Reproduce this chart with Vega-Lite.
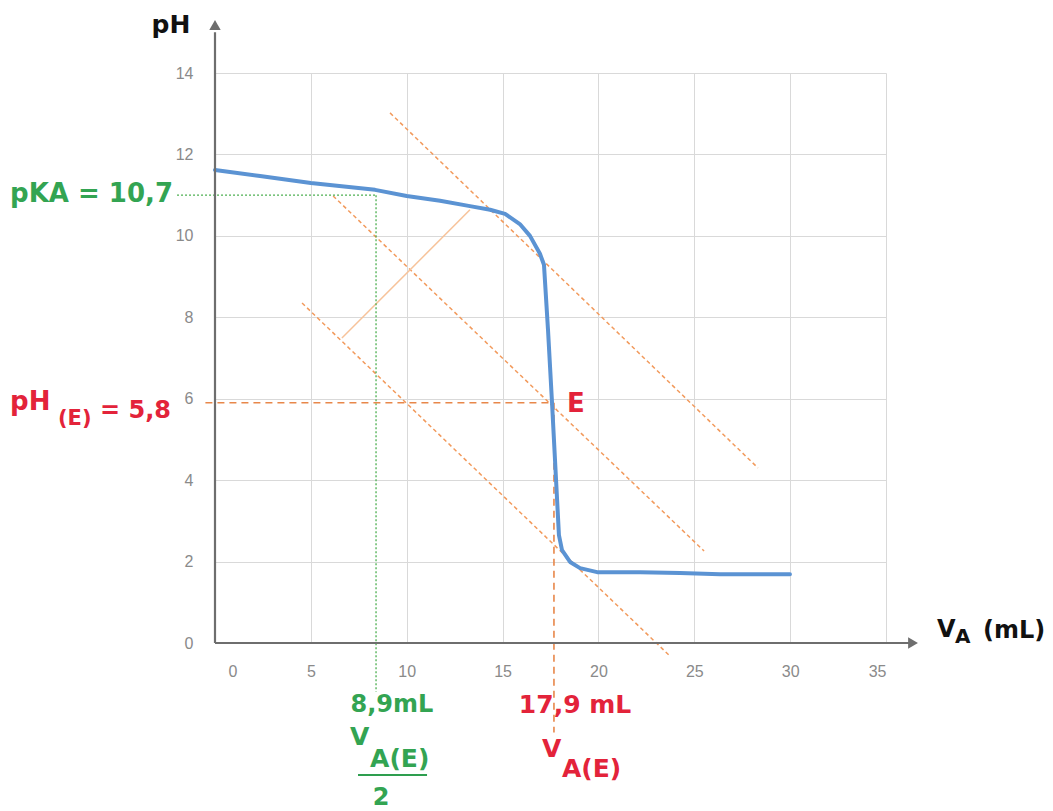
{
  "$schema": "https://vega.github.io/schema/vega-lite/v6.json",
  "width": 671,
  "height": 570,
  "autosize": "none",
  "padding": {"left": 215, "top": 73, "right": 167, "bottom": 168},
  "background": "white",
  "config": {
    "view": {"stroke": null},
    "axis": {"title": null, "domain": false, "ticks": false, "grid": true, "gridColor": "#d9d9d9", "gridWidth": 1,
      "labelColor": "#8a8a8a", "labelFont": "Liberation Sans", "labelFontSize": 16},
    "axisX": {"labelPadding": 20},
    "axisY": {"labelPadding": 22}
  },
  "datasets": {
    "curve": [
      {"v": 0, "ph": 11.62}, {"v": 2.35, "ph": 11.47}, {"v": 5, "ph": 11.3}, {"v": 8.35, "ph": 11.13},
      {"v": 10, "ph": 10.98}, {"v": 11.74, "ph": 10.86}, {"v": 13.3, "ph": 10.73}, {"v": 14.35, "ph": 10.64},
      {"v": 15.13, "ph": 10.54}, {"v": 15.9, "ph": 10.29}, {"v": 16.43, "ph": 10.0}, {"v": 16.95, "ph": 9.56},
      {"v": 17.16, "ph": 9.29}, {"v": 17.37, "ph": 7.69}, {"v": 17.58, "ph": 5.9}, {"v": 17.79, "ph": 4.0},
      {"v": 17.94, "ph": 2.65}, {"v": 18.1, "ph": 2.28}, {"v": 18.52, "ph": 1.99}, {"v": 19.04, "ph": 1.84},
      {"v": 19.93, "ph": 1.74}, {"v": 22.17, "ph": 1.74}, {"v": 24.26, "ph": 1.72}, {"v": 26.34, "ph": 1.69},
      {"v": 29.99, "ph": 1.69}
    ],
    "tangents": [
      {"x1": 9.13, "y1": 13.02, "x2": 28.32, "y2": 4.3},
      {"x1": 6.16, "y1": 10.98, "x2": 25.51, "y2": 2.26},
      {"x1": 4.54, "y1": 8.35, "x2": 23.73, "y2": -0.32}
    ],
    "perp": [{"x1": 6.62, "y1": 7.49, "x2": 13.3, "y2": 10.64}],
    "green": [
      {"x1": -1.98, "y1": 11.0, "x2": 8.4, "y2": 11.0},
      {"x1": 8.4, "y1": 11.0, "x2": 8.4, "y2": -1.2}
    ],
    "red": [
      {"x1": -0.5, "y1": 5.9, "x2": 17.62, "y2": 5.9},
      {"x1": 17.68, "y1": 5.9, "x2": 17.68, "y2": -2.2}
    ],
    "axes": [
      {"x1": 0, "y1": 0, "x2": 0, "y2": 15.0},
      {"x1": 0, "y1": 0, "x2": 36.2, "y2": 0}
    ],
    "bar": [{"x1": 7.46, "y1": -3.24, "x2": 11.06, "y2": -3.24}]
  },
  "layer": [
    {
      "data": {"name": "tangents"},
      "mark": {"type": "rule", "color": "#f29a5c", "strokeWidth": 1.5, "strokeDash": [4, 3]},
      "encoding": {
        "x": {"field": "x1", "type": "quantitative", "title": null,
          "scale": {"domain": [0, 35], "nice": false, "zero": false},
          "axis": {"values": [0, 5, 10, 15, 20, 25, 30, 35],
            "labelOffset": {"condition": {"test": "datum.value === 0", "value": 13}, "value": 0}}},
        "y": {"field": "y1", "type": "quantitative", "title": null,
          "scale": {"domain": [0, 14], "nice": false, "zero": false},
          "axis": {"values": [0, 2, 4, 6, 8, 10, 12, 14]}},
        "x2": {"field": "x2"}, "y2": {"field": "y2"}
      }
    },
    {
      "data": {"name": "perp"},
      "mark": {"type": "rule", "color": "#f7c39a", "strokeWidth": 1.5},
      "encoding": {
        "x": {"field": "x1", "type": "quantitative", "title": null}, "y": {"field": "y1", "type": "quantitative", "title": null},
        "x2": {"field": "x2"}, "y2": {"field": "y2"}
      }
    },
    {
      "data": {"name": "green"},
      "mark": {"type": "rule", "color": "#4caf50", "strokeWidth": 1.3, "strokeDash": [2, 2]},
      "encoding": {
        "x": {"field": "x1", "type": "quantitative", "title": null}, "y": {"field": "y1", "type": "quantitative", "title": null},
        "x2": {"field": "x2"}, "y2": {"field": "y2"}
      }
    },
    {
      "data": {"name": "red"},
      "mark": {"type": "rule", "color": "#e8874a", "strokeWidth": 1.6, "strokeDash": [7, 5]},
      "encoding": {
        "x": {"field": "x1", "type": "quantitative", "title": null}, "y": {"field": "y1", "type": "quantitative", "title": null},
        "x2": {"field": "x2"}, "y2": {"field": "y2"}
      }
    },
    {
      "data": {"name": "curve"},
      "mark": {"type": "line", "color": "#5b93d3", "strokeWidth": 4, "strokeJoin": "round", "strokeCap": "round"},
      "encoding": {
        "x": {"field": "v", "type": "quantitative", "title": null},
        "y": {"field": "ph", "type": "quantitative", "title": null}
      }
    },
    {
      "data": {"name": "axes"},
      "mark": {"type": "rule", "color": "#6e6e6e", "strokeWidth": 2.2},
      "encoding": {
        "x": {"field": "x1", "type": "quantitative", "title": null}, "y": {"field": "y1", "type": "quantitative", "title": null},
        "x2": {"field": "x2"}, "y2": {"field": "y2"}
      }
    },
    {
      "data": {"values": [{"x": 0, "y": 15.18}]},
      "mark": {"type": "point", "shape": "triangle-up", "filled": true, "color": "#6e6e6e", "size": 130, "opacity": 1},
      "encoding": {"x": {"field": "x", "type": "quantitative", "title": null}, "y": {"field": "y", "type": "quantitative", "title": null}}
    },
    {
      "data": {"values": [{"x": 36.41, "y": 0}]},
      "mark": {"type": "point", "shape": "triangle-right", "filled": true, "color": "#6e6e6e", "size": 130, "opacity": 1},
      "encoding": {"x": {"field": "x", "type": "quantitative", "title": null}, "y": {"field": "y", "type": "quantitative", "title": null}}
    },
    {
      "data": {"name": "bar"},
      "mark": {"type": "rule", "color": "#2e9e4f", "strokeWidth": 2},
      "encoding": {
        "x": {"field": "x1", "type": "quantitative", "title": null}, "y": {"field": "y1", "type": "quantitative", "title": null},
        "x2": {"field": "x2"}, "y2": {"field": "y2"}
      }
    },
    {
      "data": {"values": [{"x": -2.3, "y": 14.98, "t": "pH"}]},
      "mark": {"type": "text", "font": "DejaVu Sans", "fontWeight": "bold", "fontSize": 25, "color": "#111111", "align": "center", "baseline": "alphabetic"},
      "encoding": {"x": {"field": "x", "type": "quantitative", "title": null}, "y": {"field": "y", "type": "quantitative", "title": null}, "text": {"field": "t"}}
    },
    {
      "data": {"values": [{"x": 37.66, "y": 0.15, "t": "V"}, {"x": 40.06, "y": 0.12, "t": "(mL)"}]},
      "mark": {"type": "text", "font": "DejaVu Sans", "fontWeight": "bold", "fontSize": 24, "color": "#111111", "align": "left", "baseline": "alphabetic"},
      "encoding": {"x": {"field": "x", "type": "quantitative", "title": null}, "y": {"field": "y", "type": "quantitative", "title": null}, "text": {"field": "t"}}
    },
    {
      "data": {"values": [{"x": 38.6, "y": 0.0, "t": "A"}]},
      "mark": {"type": "text", "font": "DejaVu Sans", "fontWeight": "bold", "fontSize": 20, "color": "#111111", "align": "left", "baseline": "alphabetic"},
      "encoding": {"x": {"field": "x", "type": "quantitative", "title": null}, "y": {"field": "y", "type": "quantitative", "title": null}, "text": {"field": "t"}}
    },
    {
      "data": {"values": [{"x": -2.19, "y": 10.83, "t": "pKA = 10,7"}]},
      "mark": {"type": "text", "font": "DejaVu Sans", "fontWeight": "bold", "fontSize": 26, "color": "#33a452", "align": "right", "baseline": "alphabetic"},
      "encoding": {"x": {"field": "x", "type": "quantitative", "title": null}, "y": {"field": "y", "type": "quantitative", "title": null}, "text": {"field": "t"}}
    },
    {
      "data": {"values": [{"x": 9.23, "y": -1.69, "t": "8,9mL"}, {"x": 8.66, "y": -3.98, "t": "2"}]},
      "mark": {"type": "text", "font": "DejaVu Sans", "fontWeight": "bold", "fontSize": 24, "color": "#33a452", "align": "center", "baseline": "alphabetic"},
      "encoding": {"x": {"field": "x", "type": "quantitative", "title": null}, "y": {"field": "y", "type": "quantitative", "title": null}, "text": {"field": "t"}}
    },
    {
      "data": {"values": [{"x": 7.04, "y": -2.51, "t": "V"}, {"x": 8.09, "y": -3.05, "t": "A(E)"}]},
      "mark": {"type": "text", "font": "DejaVu Sans", "fontWeight": "bold", "fontSize": 25, "color": "#33a452", "align": "left", "baseline": "alphabetic"},
      "encoding": {"x": {"field": "x", "type": "quantitative", "title": null}, "y": {"field": "y", "type": "quantitative", "title": null}, "text": {"field": "t"}}
    },
    {
      "data": {"values": [{"x": -10.69, "y": 5.72, "t": "pH"}, {"x": 18.36, "y": 5.67, "t": "E"}]},
      "mark": {"type": "text", "font": "DejaVu Sans", "fontWeight": "bold", "fontSize": 26, "color": "#e3233a", "align": "left", "baseline": "alphabetic"},
      "encoding": {"x": {"field": "x", "type": "quantitative", "title": null}, "y": {"field": "y", "type": "quantitative", "title": null}, "text": {"field": "t"}}
    },
    {
      "data": {"values": [{"x": -8.19, "y": 5.36, "t": "(E)"}]},
      "mark": {"type": "text", "font": "DejaVu Sans", "fontWeight": "bold", "fontSize": 21, "color": "#e3233a", "align": "left", "baseline": "alphabetic"},
      "encoding": {"x": {"field": "x", "type": "quantitative", "title": null}, "y": {"field": "y", "type": "quantitative", "title": null}, "text": {"field": "t"}}
    },
    {
      "data": {"values": [{"x": -6.0, "y": 5.53, "t": "= 5,8"}]},
      "mark": {"type": "text", "font": "DejaVu Sans", "fontWeight": "bold", "fontSize": 24, "color": "#e3233a", "align": "left", "baseline": "alphabetic"},
      "encoding": {"x": {"field": "x", "type": "quantitative", "title": null}, "y": {"field": "y", "type": "quantitative", "title": null}, "text": {"field": "t"}}
    },
    {
      "data": {"values": [{"x": 18.78, "y": -1.72, "t": "17,9 mL"}]},
      "mark": {"type": "text", "font": "DejaVu Sans", "fontWeight": "bold", "fontSize": 25, "color": "#e3233a", "align": "center", "baseline": "alphabetic"},
      "encoding": {"x": {"field": "x", "type": "quantitative", "title": null}, "y": {"field": "y", "type": "quantitative", "title": null}, "text": {"field": "t"}}
    },
    {
      "data": {"values": [{"x": 17.06, "y": -2.8, "t": "V"}, {"x": 18.1, "y": -3.29, "t": "A(E)"}]},
      "mark": {"type": "text", "font": "DejaVu Sans", "fontWeight": "bold", "fontSize": 25, "color": "#e3233a", "align": "left", "baseline": "alphabetic"},
      "encoding": {"x": {"field": "x", "type": "quantitative", "title": null}, "y": {"field": "y", "type": "quantitative", "title": null}, "text": {"field": "t"}}
    }
  ]
}
